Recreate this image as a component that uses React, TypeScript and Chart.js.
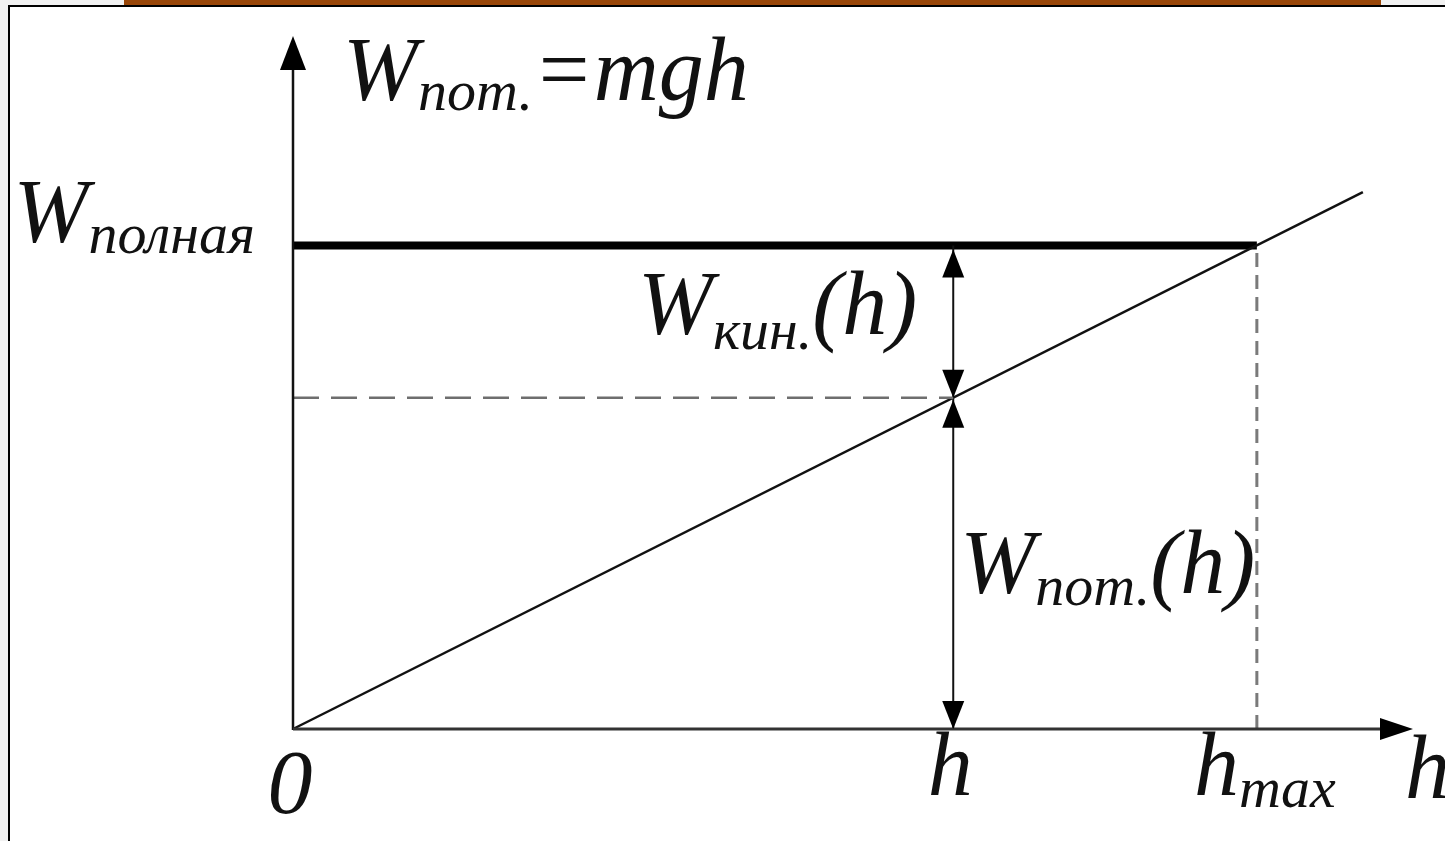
import React, { useEffect, useRef } from "react";
import { Chart, registerables } from "chart.js";

Chart.register(...registerables);

// ---- data (energy in arbitrary units, height in arbitrary units) ----
const H = 6.85; // current height h
const H_MAX = 10; // maximum height
const W_TOTAL = 10; // total energy level
const LINE_END = 11.1; // where the mgh line is drawn to
const X_MAX = 11.62; // end of the h axis
const Y_MAX = 14.33; // end of the W axis

const totalEnergy = [
  { x: 0, y: W_TOTAL },
  { x: H_MAX, y: W_TOTAL },
];
const potentialEnergy = [
  { x: 0, y: 0 },
  { x: LINE_END, y: LINE_END },
];
const levelAtH = [
  { x: 0, y: H },
  { x: H, y: H },
];
const dropAtHmax = [
  { x: H_MAX, y: 0 },
  { x: H_MAX, y: W_TOTAL },
];
const arrowsAtH = [
  { x: H, y: 0 },
  { x: H, y: W_TOTAL },
];

const xTickValues = [0, H, H_MAX];
const xTickMain = ["0", "h", "h"];
const xTickSub = ["", "", "max"];

const FONT = "'Liberation Serif', 'Times New Roman', serif";
const MAIN = 90;
const SUB = 58;

type Part = { t: string; sub?: boolean };

function partsWidth(ctx: CanvasRenderingContext2D, parts: Part[]) {
  let w = 0;
  for (const p of parts) {
    ctx.font = `italic ${p.sub ? SUB : MAIN}px ${FONT}`;
    w += ctx.measureText(p.t).width;
  }
  return w;
}

function drawParts(
  ctx: CanvasRenderingContext2D,
  parts: Part[],
  x: number,
  y: number,
  align: "left" | "right" | "center",
  subDy = 12
) {
  const w = partsWidth(ctx, parts);
  let cx = align === "left" ? x : align === "right" ? x - w : x - w / 2;
  ctx.textAlign = "left";
  ctx.textBaseline = "alphabetic";
  ctx.fillStyle = "#111";
  for (const p of parts) {
    ctx.font = `italic ${p.sub ? SUB : MAIN}px ${FONT}`;
    ctx.fillText(p.t, cx, p.sub ? y + subDy : y);
    cx += ctx.measureText(p.t).width;
  }
}

function arrowHead(
  ctx: CanvasRenderingContext2D,
  tx: number,
  ty: number,
  dx: number,
  dy: number,
  len: number,
  half: number
) {
  const bx = tx - dx * len;
  const by = ty - dy * len;
  const nx = -dy;
  const ny = dx;
  ctx.beginPath();
  ctx.moveTo(tx, ty);
  ctx.lineTo(bx + nx * half, by + ny * half);
  ctx.lineTo(bx - nx * half, by - ny * half);
  ctx.closePath();
  ctx.fillStyle = "#000";
  ctx.fill();
}

const decorPlugin = {
  id: "decor",
  afterDatasetsDraw(chart: any) {
    const ctx: CanvasRenderingContext2D = chart.ctx;
    const xs = chart.scales.x;
    const ys = chart.scales.y;
    const X = (v: number) => xs.getPixelForValue(v);
    const Y = (v: number) => ys.getPixelForValue(v);
    ctx.save();

    // axes
    ctx.lineCap = "butt";
    ctx.strokeStyle = "#111";
    ctx.lineWidth = 2.5;
    ctx.beginPath();
    ctx.moveTo(X(0), Y(0) + 1);
    ctx.lineTo(X(0), Y(Y_MAX) + 30);
    ctx.stroke();
    arrowHead(ctx, X(0), Y(Y_MAX), 0, -1, 34, 13);

    ctx.strokeStyle = "#333";
    ctx.lineWidth = 3;
    ctx.beginPath();
    ctx.moveTo(X(0), Y(0));
    ctx.lineTo(X(X_MAX) - 30, Y(0));
    ctx.stroke();
    arrowHead(ctx, X(X_MAX), Y(0), 1, 0, 33, 11);

    // arrowheads on the vertical measure lines at h
    arrowHead(ctx, X(H), Y(W_TOTAL) + 4, 0, -1, 28, 11);
    arrowHead(ctx, X(H), Y(H), 0, 1, 28, 11);
    arrowHead(ctx, X(H), Y(H) + 2, 0, -1, 28, 11);
    arrowHead(ctx, X(H), Y(0), 0, 1, 28, 11);

    // tick labels (the origin label sits a little lower)
    xTickValues.forEach((v, i) => {
      const parts: Part[] = [{ t: xTickMain[i] }];
      if (xTickSub[i]) parts.push({ t: xTickSub[i], sub: true });
      const dx = xTickSub[i] ? 8 : -3;
      const dy = v === 0 ? 84 : 66;
      drawParts(ctx, parts, X(v) + dx, Y(0) + dy, "center", 12);
    });
    // axis name
    drawParts(ctx, [{ t: "h" }], X(X_MAX) - 8, Y(0) + 69, "left");

    // title
    drawParts(
      ctx,
      [{ t: "W" }, { t: "пот.", sub: true }, { t: "=mgh" }],
      X(0) + 50,
      Y(Y_MAX) + 64,
      "left",
      10
    );
    // total energy label
    drawParts(
      ctx,
      [{ t: "W" }, { t: "полная", sub: true }],
      X(0) - 38,
      Y(W_TOTAL) - 3,
      "right",
      11
    );
    // kinetic label
    drawParts(
      ctx,
      [{ t: "W" }, { t: "кин.", sub: true }, { t: "(h)" }],
      X(H) - 36,
      (Y(W_TOTAL) + Y(H)) / 2 + 12,
      "right",
      15
    );
    // potential label
    drawParts(
      ctx,
      [{ t: "W" }, { t: "пот.", sub: true }, { t: "(h)" }],
      X(H) + 7,
      (Y(0) + Y(H)) / 2 + 30,
      "left",
      12
    );
    ctx.restore();
  },
};

export default function App() {
  const ref = useRef<HTMLCanvasElement | null>(null);

  useEffect(() => {
    let chart: Chart | null = null;
    let cancelled = false;
    const make = () => {
      if (cancelled || !ref.current) return;
      chart = new Chart(ref.current, {
        type: "line",
        data: {
          datasets: [
            {
              data: dropAtHmax,
              borderColor: "#7a7a7a",
              borderWidth: 3,
              borderDash: [14, 8],
              pointRadius: 0,
            },
            {
              data: levelAtH,
              borderColor: "#6e6e6e",
              borderWidth: 2.5,
              borderDash: [26, 12],
              pointRadius: 0,
            },
            {
              data: arrowsAtH,
              borderColor: "#111",
              borderWidth: 2,
              pointRadius: 0,
            },
            {
              data: potentialEnergy,
              borderColor: "#111",
              borderWidth: 2.5,
              pointRadius: 0,
            },
            {
              data: totalEnergy,
              borderColor: "#000",
              borderWidth: 8,
              pointRadius: 0,
            },
          ] as any,
        },
        options: {
          responsive: false,
          animation: false,
          clip: false as any,
          layout: { padding: { left: 293, top: 36, right: 32, bottom: 112 } },
          plugins: { legend: { display: false }, tooltip: { enabled: false } },
          scales: {
            x: { type: "linear", min: 0, max: X_MAX, display: false },
            y: { type: "linear", min: 0, max: Y_MAX, display: false },
          },
        },
        plugins: [decorPlugin],
      });
    };
    const fonts: any = (document as any).fonts;
    if (fonts && fonts.load) {
      Promise.all([
        fonts.load(`italic ${MAIN}px "Liberation Serif"`, "Wh0пот"),
        fonts.load(`italic ${SUB}px "Liberation Serif"`, "полнаякинmax"),
      ])
        .catch(() => null)
        .then(make);
    } else {
      make();
    }
    return () => {
      cancelled = true;
      if (chart) chart.destroy();
    };
  }, []);

  return (
    <div
      style={{
        position: "fixed",
        left: 0,
        top: 0,
        width: 1445,
        height: 841,
        background: "#f1f1f1",
        overflow: "hidden",
      }}
    >
      <div
        style={{
          position: "absolute",
          left: 124,
          top: 0,
          width: 1257,
          height: 5,
          background: "#984608",
        }}
      />
      <div
        style={{
          position: "absolute",
          left: 8,
          top: 5,
          width: 1445,
          height: 841,
          background: "#fff",
          borderTop: "2px solid #000",
          borderLeft: "2px solid #000",
        }}
      />
      <canvas
        ref={ref}
        width={1445}
        height={841}
        style={{ position: "absolute", left: 0, top: 0 }}
      />
    </div>
  );
}
